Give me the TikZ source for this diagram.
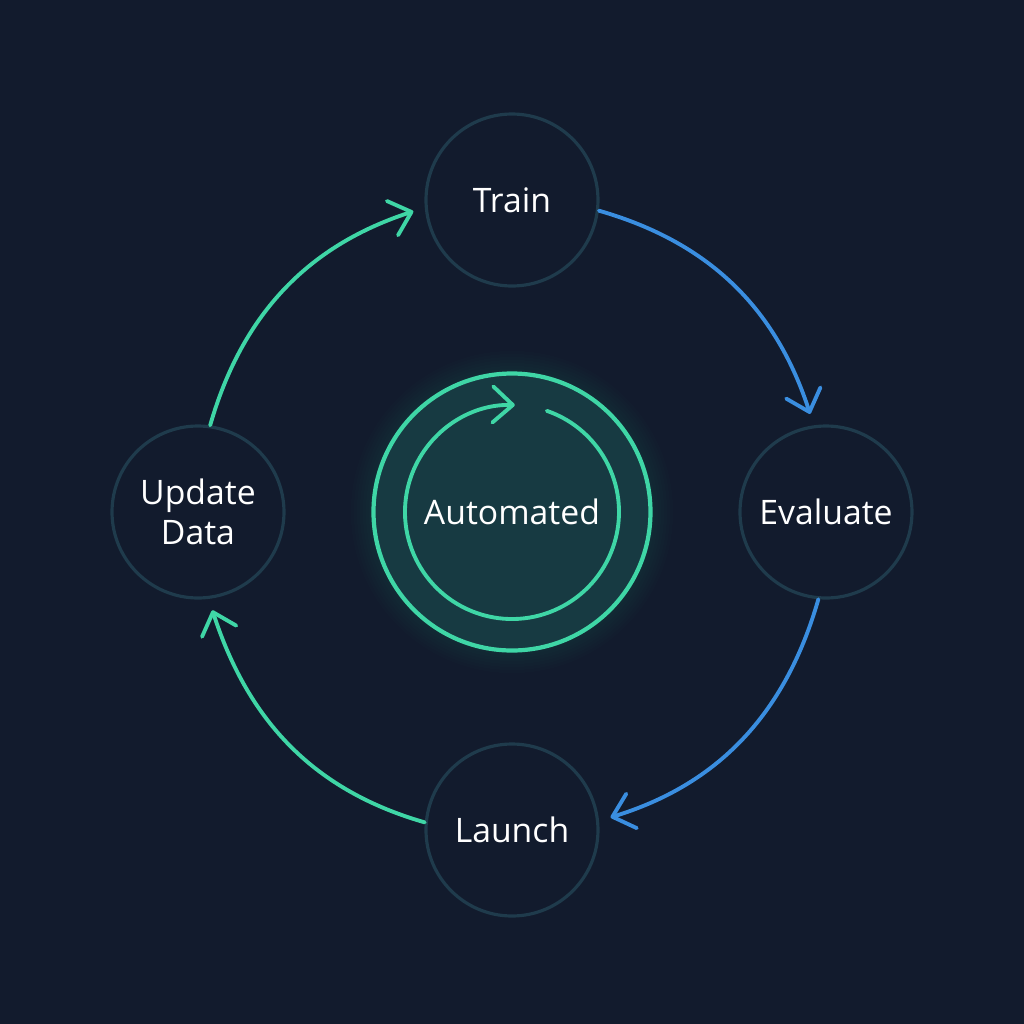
\documentclass[tikz,border=0pt]{standalone}
\usepackage{fontspec}
\setmainfont{Open Sans}
\usetikzlibrary{arrows.meta}
\definecolor{bgnavy}{HTML}{121B2D}
\definecolor{ringgrey}{HTML}{1F3B4C}
\definecolor{mint}{HTML}{3FD6A6}
\definecolor{skyblue}{HTML}{3A8EE0}
\definecolor{coreteal}{HTML}{173A42}
\tikzset{
  stage/.style={circle, draw=ringgrey, line width=0.9pt, fill=bgnavy,
    minimum size=1.72cm, inner sep=0pt, text=white, align=center,
    font=\fontsize{9.6}{11.4}\selectfont},
  barb/.style={-{Straight Barb[length=2mm,width=3.6mm,round]},
    line width=1.1pt, line cap=round},
  flow/.style={barb, shorten >=0.12cm},
}
\begin{document}
\begin{tikzpicture}
  \fill[bgnavy] (-5.12,-5.12) rectangle (5.12,5.12);
  \useasboundingbox (-5.12,-5.12) rectangle (5.12,5.12);

  % stages round the loop
  \node[stage] (train)  at (0,3.12)   {Train};
  \node[stage] (eval)   at (3.14,0)   {Evaluate};
  \node[stage] (launch) at (0,-3.18)  {Launch};
  \node[stage] (update) at (-3.14,0)  {Update\\Data};

  % glow round the core
  \foreach \r in {1.40,1.43,...,1.62}
    \fill[mint, opacity=0.015] (0,0) circle (\r);
  \node[circle, fill=coreteal, draw=mint, line width=1.2pt, minimum size=2.77cm,
    text=white, font=\fontsize{9.6}{11.4}\selectfont] (core) at (0,0) {Automated};
  \draw[barb, mint] (core.center) ++(71:1.07) arc[start angle=71, end angle=-271.5, radius=1.07];

  % connectors
  \draw[flow, skyblue] (train.-7)   to[out=-16, in=108]  (eval.98);
  \draw[flow, skyblue] (eval.-95)   to[out=-106, in=17]  (launch.6);
  \draw[flow, mint]    (launch.175) to[out=164, in=-72]  (update.-83);
  \draw[flow, mint]    (update.82)  to[out=74, in=198]   (train.185);
\end{tikzpicture}
\end{document}
